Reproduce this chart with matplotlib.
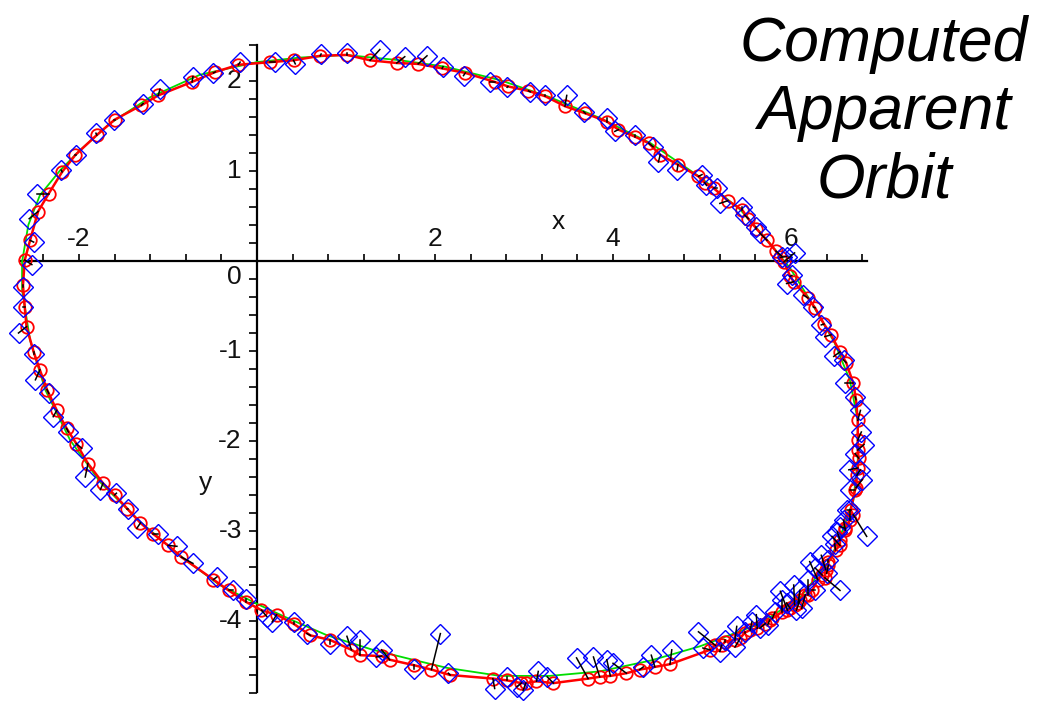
import numpy as np
import matplotlib
matplotlib.use("Agg")
import matplotlib.pyplot as plt
from matplotlib.ticker import FixedLocator, NullFormatter

# Observed apparent positions (blue diamonds)
obs_x = [-0.19, -0.49, -0.72, -1.09, -1.28, -1.61, -1.81, -2.03, -2.20, -2.47,
         -2.56, -2.51, -2.53, -2.63, -2.63, -2.68, -2.51, -2.49, -2.34, -2.29,
         -2.12, -1.97, -1.93, -1.76, -1.58, -1.45, -1.35, -1.11, -0.90, -0.72,
         -0.45, -0.27, -0.12, 0.11, 0.17, 0.41, 0.56, 0.82, 1.01, 1.16,
         1.34, 1.40, 1.76, 2.06, 2.15, 2.67, 2.81, 2.92, 2.99, 3.16,
         3.26, 3.59, 3.78, 3.93, 4.00, 4.34, 4.43, 4.66,
         5.01, 4.96, 5.20, 5.26, 5.39, 5.37, 5.48, 5.56, 5.61, 5.65,
         5.74, 5.82, 5.90, 5.88, 5.95, 6.03, 6.10, 6.06, 6.12, 6.19,
         6.27, 6.21, 6.27, 6.55, 6.34, 6.40, 6.42, 6.49, 6.46, 6.52,
         6.59, 6.55, 6.66, 6.85, 6.63, 6.66, 6.80, 6.78, 6.65, 6.72,
         6.82, 6.79, 6.78, 6.72, 6.61, 6.59, 6.48, 6.38, 6.34, 6.25,
         6.14, 5.95, 6.01, 6.04, 5.95, 5.90, 5.65, 5.61, 5.48, 5.45,
         5.20, 5.17, 5.05, 5.00, 4.72, 4.51, 4.45, 4.25, 4.02, 3.93,
         3.67, 3.48, 3.24, 3.07, 2.81, 2.62, 2.32, 2.09, 1.91, 1.66,
         1.38, 1.01, 0.72, 0.43, 0.20]
obs_y = [2.21, 2.09, 2.05, 1.91, 1.75, 1.57, 1.42, 1.18, 1.01, 0.75,
         0.47, 0.21, -0.04, -0.29, -0.51, -0.80, -1.03, -1.32, -1.47, -1.73,
         -1.90, -2.08, -2.40, -2.54, -2.58, -2.75, -2.97, -3.03, -3.17, -3.36,
         -3.51, -3.66, -3.75, -3.95, -4.01, -4.01, -4.14, -4.25, -4.17, -4.21,
         -4.40, -4.32, -4.53, -4.14, -4.58, -4.75, -4.62, -4.73, -4.77, -4.56,
         -4.62, -4.41, -4.40, -4.43, -4.47, -4.51, -4.38, -4.32,
         -4.30, -4.12, -4.34, -4.21, -4.06, -4.29, -4.12, -4.01, -3.93, -4.08,
         -4.04, -3.90, -3.77, -3.67, -3.80, -3.60, -3.66, -3.88, -3.86, -3.54,
         -3.66, -3.34, -3.41, -3.66, -3.27, -3.47, -3.32, -3.14, -3.06, -3.01,
         -2.88, -2.95, -2.77, -3.06, -2.77, -2.54, -2.43, -2.32, -2.32, -2.14,
         -2.04, -1.90, -1.66, -1.51, -1.36, -1.10, -1.06, -0.84, -0.71, -0.51,
         -0.38, -0.25, -0.16, 0.09, 0.05, 0.05, 0.31, 0.38, 0.51, 0.60,
         0.64, 0.81, 0.84, 0.96, 1.01, 1.10, 1.27, 1.40, 1.44, 1.59,
         1.66, 1.84, 1.84, 1.88, 1.93, 1.99, 2.06, 2.16, 2.28, 2.27,
         2.35, 2.31, 2.30, 2.19, 2.21]

# Computed positions paired with each observation (red circles)
calc_x = [-0.21, -0.47, -0.73, -1.11, -1.30, -1.60, -1.80, -2.04, -2.19, -2.34,
          -2.46, -2.55, -2.61, -2.63, -2.61, -2.59, -2.51, -2.44, -2.36, -2.25,
          -2.14, -2.03, -1.90, -1.73, -1.60, -1.46, -1.31, -1.17, -1.00, -0.85,
          -0.49, -0.32, -0.12, 0.05, 0.22, 0.41, 0.60, 0.82, 1.06, 1.16,
          1.40, 1.49, 1.76, 1.96, 2.17, 2.65, 2.81, 2.97, 3.02, 3.14,
          3.33, 3.72, 3.85, 3.97, 4.15, 4.30, 4.47, 4.64,
          5.09, 5.15, 5.22, 5.26, 5.37, 5.43, 5.48, 5.54, 5.62, 5.71,
          5.76, 5.79, 5.90, 5.96, 5.99, 6.04, 6.08, 6.10, 6.16, 6.19,
          6.24, 6.30, 6.35, 6.38, 6.39, 6.42, 6.42, 6.50, 6.55, 6.55,
          6.61, 6.61, 6.66, 6.70, 6.67, 6.72, 6.73, 6.74, 6.75, 6.76,
          6.75, 6.75, 6.75, 6.73, 6.70, 6.62, 6.55, 6.45, 6.37, 6.27,
          6.19, 6.03, 5.99, 5.92, 5.88, 5.83, 5.73, 5.61, 5.52, 5.45,
          5.29, 5.13, 5.03, 4.96, 4.73, 4.53, 4.40, 4.25, 4.06, 3.93,
          3.69, 3.46, 3.24, 3.05, 2.82, 2.67, 2.34, 2.08, 1.81, 1.57,
          1.27, 1.01, 0.71, 0.41, 0.15]
calc_y = [2.18, 2.10, 1.99, 1.84, 1.73, 1.57, 1.40, 1.18, 0.99, 0.75,
          0.55, 0.23, 0.01, -0.27, -0.51, -0.73, -1.01, -1.21, -1.43, -1.66,
          -1.86, -2.03, -2.25, -2.47, -2.60, -2.75, -2.91, -3.03, -3.16, -3.29,
          -3.54, -3.66, -3.79, -3.88, -3.93, -4.03, -4.16, -4.21, -4.32, -4.38,
          -4.39, -4.43, -4.49, -4.54, -4.60, -4.64, -4.66, -4.69, -4.69, -4.67,
          -4.69, -4.64, -4.62, -4.61, -4.58, -4.54, -4.51, -4.48,
          -4.32, -4.27, -4.27, -4.23, -4.21, -4.19, -4.13, -4.10, -4.08, -4.03,
          -3.99, -3.97, -3.90, -3.88, -3.86, -3.82, -3.80, -3.77, -3.71, -3.71,
          -3.66, -3.54, -3.49, -3.52, -3.43, -3.38, -3.34, -3.21, -3.16, -3.10,
          -2.99, -2.97, -2.88, -2.82, -2.77, -2.54, -2.52, -2.38, -2.30, -2.19,
          -2.10, -1.99, -1.77, -1.54, -1.36, -1.13, -1.01, -0.82, -0.70, -0.52,
          -0.41, -0.23, -0.17, -0.01, 0.04, 0.11, 0.23, 0.36, 0.47, 0.57,
          0.67, 0.81, 0.87, 0.94, 1.07, 1.18, 1.31, 1.38, 1.46, 1.55,
          1.64, 1.72, 1.83, 1.89, 1.94, 1.99, 2.09, 2.14, 2.19, 2.20,
          2.23, 2.29, 2.28, 2.23, 2.21]

# Fitted orbit (green curve)
fit_x = [0.00, 0.48, 0.99, 1.61, 2.11, 2.73, 3.29, 3.85, 4.42, 4.98,
         5.43, 5.76, 5.99, 6.21, 6.49, 6.66, 6.75, 6.75, 6.70, 6.58,
         6.44, 6.10, 5.65, 4.98, 4.42, 3.85, 3.29, 2.73, 2.13, 1.75,
         1.30, 0.79, 0.37, 0.00, -0.42, -0.87, -1.31, -1.76, -2.10, -2.38,
         -2.55, -2.64, -2.64, -2.57, -2.44, -2.21, -1.99, -1.65, -1.20, -0.64,
         0.00]
fit_y = [2.21, 2.26, 2.29, 2.23, 2.16, 2.01, 1.82, 1.59, 1.31, 0.93,
         0.57, 0.20, -0.08, -0.43, -0.91, -1.32, -1.77, -2.21, -2.66, -2.99,
         -3.32, -3.74, -4.03, -4.28, -4.44, -4.56, -4.61, -4.61, -4.52, -4.43,
         -4.32, -4.16, -3.98, -3.81, -3.60, -3.27, -2.90, -2.46, -1.99, -1.43,
         -0.88, -0.32, -0.01, 0.40, 0.73, 1.01, 1.23, 1.53, 1.82, 2.07,
         2.21]

# Axis decorations
x_label_ticks = [-2, 2, 4, 6]
y_label_ticks = [2, 1, 0, -1, -2, -3, -4]
x_axis_span = (-2.66, 6.85)
y_axis_span = (-4.79, 2.40)
title_text = "Computed\nApparent\nOrbit"

plt.rcParams['font.family'] = ['Liberation Sans', 'DejaVu Sans']

fig = plt.figure(figsize=(10.55, 7.02), dpi=100)
ax = fig.add_axes([0, 0, 1, 1])
ax.patch.set_visible(False)

# Axes crossing at the origin
for side in ('top', 'right'):
    ax.spines[side].set_visible(False)
ax.spines['bottom'].set_position(('data', 0))
ax.spines['left'].set_position(('data', 0))
ax.spines['bottom'].set_bounds(*x_axis_span)
ax.spines['left'].set_bounds(*y_axis_span)
for side in ('bottom', 'left'):
    ax.spines[side].set_linewidth(1.6)
    ax.spines[side].set_zorder(1)

# Minor-style ticks every 0.4 in x and 0.2 in y, kept inside the axis lines
x_tick_pos = np.arange(-6, 18) * 0.4
y_tick_pos = np.arange(-24, 13) * 0.2
x_tick_pos = x_tick_pos[(x_tick_pos >= x_axis_span[0]) & (x_tick_pos <= x_axis_span[1])]
y_tick_pos = y_tick_pos[(y_tick_pos >= y_axis_span[0] - 0.02) & (y_tick_pos <= y_axis_span[1] + 0.02)]
ax.xaxis.set_major_locator(FixedLocator(x_tick_pos))
ax.yaxis.set_major_locator(FixedLocator(y_tick_pos))
ax.xaxis.set_major_formatter(NullFormatter())
ax.yaxis.set_major_formatter(NullFormatter())
ax.tick_params(axis='x', direction='in', length=5, width=1.2, bottom=True, top=False)
ax.tick_params(axis='y', direction='out', length=5.5, width=1.2, left=True, right=False)
ax.set_xlim(-2.888, 8.966)
ax.set_ylim(-4.9, 2.9)

lab_kw = dict(fontsize=19, color='#111111')
for v in x_label_ticks:
    ax.annotate(str(v), xy=(v, 0), xytext=(0, 15.5), textcoords='offset points',
                ha='center', va='center', **lab_kw)
for v in y_label_ticks:
    dy = -11.5 if v == 0 else 0
    ax.annotate(str(v), xy=(0, v), xytext=(-11, dy), textcoords='offset points',
                ha='right', va='center', **lab_kw)

ax.text(3.38, 0.43, "x", ha='center', va='center', **lab_kw)
ax.text(-0.58, -2.47, "y", ha='center', va='center', **lab_kw)

# Orbit, computed positions, observations and residuals
ax.plot(fit_x, fit_y, color='#00dd00', lw=1.3, zorder=2)
cx = np.append(calc_x, calc_x[0])
cy = np.append(calc_y, calc_y[0])
ax.plot(cx, cy, color='#ff0000', lw=1.8, zorder=3)
ax.plot(calc_x, calc_y, linestyle='none', marker='o', markersize=9,
        markerfacecolor='none', markeredgecolor='#ff0000', markeredgewidth=1.3, zorder=4)
ax.plot(obs_x, obs_y, linestyle='none', marker='D', markersize=10.5,
        markerfacecolor='none', markeredgecolor='#0000ff', markeredgewidth=1.0, zorder=5)
ax.plot(np.vstack([obs_x, calc_x]), np.vstack([obs_y, calc_y]),
        color='black', lw=1.1, zorder=6)

fig.text(884 / 1055, 1 - 113 / 702, title_text, ha='center', va='center',
         fontsize=45, style='italic', linespacing=1.2)

fig.savefig("out.png", dpi=100)
